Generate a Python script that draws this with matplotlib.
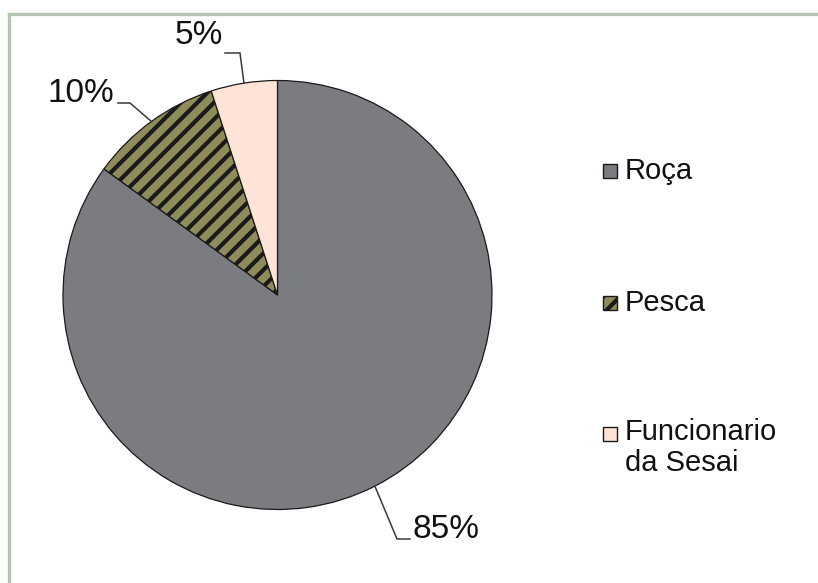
import numpy as np
import matplotlib
matplotlib.use("Agg")
import matplotlib.pyplot as plt
from matplotlib.patches import Rectangle
from matplotlib.lines import Line2D

# Data
categories = ["Roça", "Pesca", "Funcionario\nda Sesai"]
shares = [85, 10, 5]
pct_labels = ["85%", "10%", "5%"]

colors = ["#7a7c80", "#8e8c5a", "#fde4d6"]
hatches = [None, "//", None]

plt.rcParams["font.family"] = ["Liberation Sans", "DejaVu Sans"]
plt.rcParams["hatch.linewidth"] = 3.0

W, H = 818, 583
fig = plt.figure(figsize=(W / 100, H / 100), dpi=100)

# pie axes: centre (277.5, 295) px, radius 214.5 px
cx, cy, r = 277.5, 295.0, 214.5
ax = fig.add_axes([(cx - r) / W, (H - cy - r) / H, 2 * r / W, 2 * r / H])
ax.set_xlim(-1, 1)
ax.set_ylim(-1, 1)
ax.set_aspect("equal")
ax.axis("off")

wedges, _ = ax.pie(shares, colors=colors, startangle=90, counterclock=False,
                   radius=1.0, center=(0, 0), frame=False,
                   wedgeprops=dict(edgecolor="#1a1a1a", linewidth=0.9))
for w, h in zip(wedges, hatches):
    if h:
        w.set_hatch(h)
ax.set_xlim(-1, 1)
ax.set_ylim(-1, 1)

def px(x, y):
    """pixel coordinates (top-left origin) -> pie data coordinates"""
    return (x - cx) / r, (cy - y) / r

# leader lines: (elbow px, end of horizontal px, text anchor px, ha)
leaders = [
    ((397, 539), (410, 539), (412, 530), "left"),
    ((130, 103), (118, 103), (114, 94), "right"),
    ((240, 53), (225, 53), (223, 36), "right"),
]
for w, (elbow, hend, tpos, ha), lab in zip(wedges, leaders, pct_labels):
    ang = np.deg2rad((w.theta1 + w.theta2) / 2)
    ex, ey = np.cos(ang), np.sin(ang)
    bx, by = px(*elbow)
    hx, hy = px(*hend)
    ax.plot([ex, bx, hx], [ey, by, hy], color="#3a3a3a", lw=1.1,
            solid_joinstyle="miter", clip_on=False)
    tx, ty = px(*tpos)
    ax.text(tx, ty, lab, ha=ha, va="center", fontsize=24, color="#111111",
            clip_on=False)

# legend drawn in figure pixel space
leg_ax = fig.add_axes([0, 0, 1, 1])
leg_ax.set_xlim(0, W)
leg_ax.set_ylim(H, 0)
leg_ax.axis("off")
leg_rows = [171, 303, 434]
for w, lab, yrow in zip(wedges, categories, leg_rows):
    rect = Rectangle((603, yrow - 7.5), 14, 14, facecolor=w.get_facecolor(),
                     edgecolor="#1a1a1a", linewidth=1.0,
                     hatch=w.get_hatch())
    leg_ax.add_patch(rect)
    two_line = "\n" in lab
    leg_ax.text(625, yrow - 16 if two_line else yrow, lab, ha="left",
                va="top" if two_line else "center",
                fontsize=21, color="#111111", linespacing=1.12)

# outer frame (top and left edges visible)
fig.add_artist(Line2D([9 / W, 1.0], [1 - 14 / H, 1 - 14 / H],
                      transform=fig.transFigure, color="#b5c5b3", lw=2.4))
fig.add_artist(Line2D([9 / W, 9 / W], [1 - 14 / H, 0.0],
                      transform=fig.transFigure, color="#b5c5b3", lw=2.4))

fig.savefig("out.png", dpi=100, facecolor="white")
